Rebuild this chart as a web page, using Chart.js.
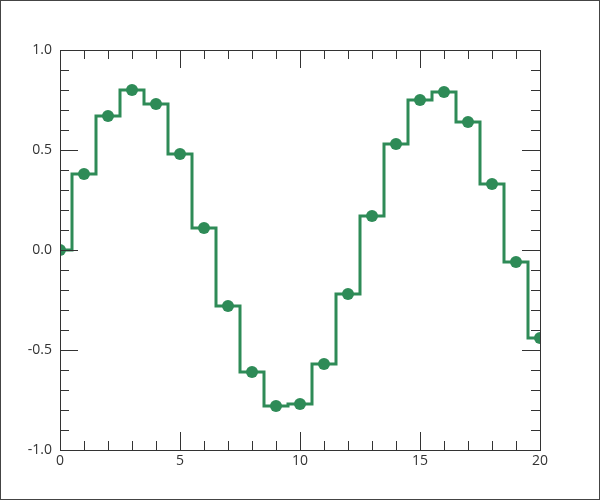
<!DOCTYPE html>
<html>
<head>
<meta charset="utf-8">
<script src="https://cdn.jsdelivr.net/npm/chart.js@4/dist/chart.umd.min.js"></script>
<style>
html,body{margin:0;padding:0;background:#fff;}
#wrap{width:600px;height:500px;position:relative;}
canvas{display:block;}
</style>
</head>
<body>
<div id="wrap"><canvas id="c" width="600" height="500"></canvas></div>
<script>
const xValues = [0,1,2,3,4,5,6,7,8,9,10,11,12,13,14,15,16,17,18,19,20];
const yValues = [0, 0.38, 0.67, 0.80, 0.73, 0.48, 0.11, -0.28, -0.61, -0.78, -0.77, -0.57, -0.22, 0.17, 0.53, 0.75, 0.79, 0.64, 0.33, -0.06, -0.44];
const xTicks = [0, 5, 10, 15, 20];
const yTicks = [-1.0, -0.5, 0.0, 0.5, 1.0];

const GREEN = '#2e8b57';
const AXIS = '#333333';

const framePlugin = {
  id: 'frame',
  afterDatasetsDraw(chart) {
    const ctx = chart.ctx;
    const a = chart.chartArea;
    const xs = chart.scales.x, ys = chart.scales.y;
    ctx.save();
    ctx.strokeStyle = AXIS;
    ctx.lineWidth = 1;
    ctx.beginPath();
    for (let v = xs.min; v <= xs.max; v += 1) {
      if (v === xs.min || v === xs.max) continue;
      const px = Math.round(xs.getPixelForValue(v)) + 0.5;
      const len = (v % 5 === 0) ? 18 : 9;
      ctx.moveTo(px, a.bottom); ctx.lineTo(px, a.bottom - len);
      ctx.moveTo(px, a.top); ctx.lineTo(px, a.top + len);
    }
    for (let i = -10; i <= 10; i++) {
      if (i === -10 || i === 10) continue;
      const v = i / 10;
      const py = Math.round(ys.getPixelForValue(v)) + 0.5;
      const len = (i % 5 === 0) ? 18 : 9;
      ctx.moveTo(a.left, py); ctx.lineTo(a.left + len, py);
      ctx.moveTo(a.right, py); ctx.lineTo(a.right - len, py);
    }
    ctx.stroke();
    ctx.strokeRect(Math.round(a.left) + 0.5, Math.round(a.top) + 0.5, Math.round(a.right - a.left), Math.round(a.bottom - a.top));
    ctx.restore();
  },
  afterDraw(chart) {
    const ctx = chart.ctx;
    ctx.save();
    ctx.strokeStyle = '#444444';
    ctx.lineWidth = 1;
    ctx.strokeRect(0.5, 0.5, chart.width - 1, chart.height - 1);
    ctx.restore();
  }
};

new Chart(document.getElementById('c'), {
  type: 'line',
  data: {
    datasets: [{
      data: xValues.map((x, i) => ({x: x, y: yValues[i]})),
      borderColor: GREEN,
      backgroundColor: GREEN,
      borderWidth: 3,
      stepped: 'middle',
      pointRadius: 6,
      pointBorderWidth: 0,
      pointBackgroundColor: GREEN,
      fill: false,
      clip: 0
    }]
  },
  options: {
    responsive: false,
    animation: false,
    devicePixelRatio: 1,
    layout: { padding: { top: 50, right: 60, left: 0, bottom: 0 } },
    plugins: { legend: { display: false }, tooltip: { enabled: false } },
    scales: {
      x: {
        type: 'linear', min: 0, max: 20,
        grid: { display: false, drawTicks: false },
        border: { display: false },
        afterBuildTicks: s => { s.ticks = xTicks.map(v => ({value: v})); },
        afterFit: s => { s.height = 50; },
        ticks: {
          padding: 3,
          color: '#333333',
          font: { family: 'Open Sans', size: 14 },
          maxRotation: 0,
          callback: v => String(v)
        }
      },
      y: {
        type: 'linear', min: -1, max: 1,
        grid: { display: false, drawTicks: false },
        border: { display: false },
        afterBuildTicks: s => { s.ticks = yTicks.map(v => ({value: v})); },
        afterFit: s => { s.width = 60; },
        ticks: {
          padding: 8,
          color: '#333333',
          font: { family: 'Open Sans', size: 14 },
          callback: v => Number(v).toFixed(1)
        }
      }
    }
  },
  plugins: [framePlugin]
});
</script>
</body>
</html>
